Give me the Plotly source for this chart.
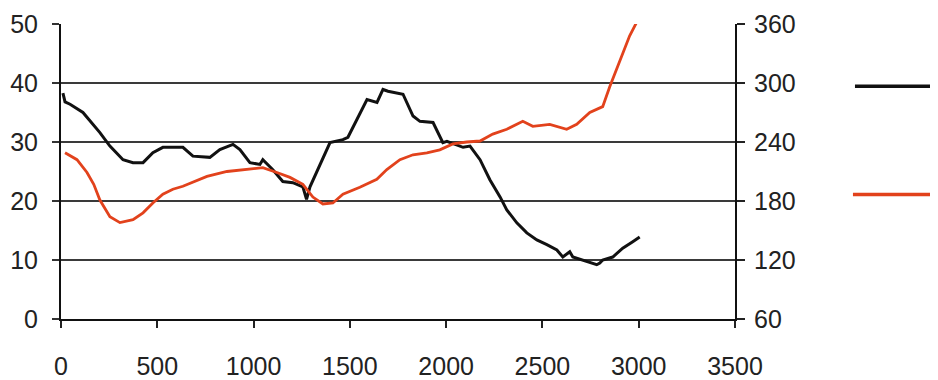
import plotly.graph_objects as go

# Black series (left axis, 0-50)
black_x = [10, 21, 47, 114, 202, 254, 322, 374, 426, 477, 529, 633, 685, 773, 825, 893, 929,
           981, 1033, 1048, 1100, 1152, 1204, 1256, 1275, 1293, 1397, 1464, 1490, 1589, 1641,
           1672, 1698, 1760, 1776, 1828, 1864, 1932, 1983, 2004, 2088, 2124, 2176, 2227, 2280,
           2315, 2367, 2419, 2471, 2523, 2575, 2606, 2642, 2658, 2730, 2782, 2798, 2813, 2865,
           2917, 2969, 3005]
black_y = [38.3, 36.8, 36.4, 35.0, 31.6, 29.3, 27.0, 26.5, 26.5, 28.2, 29.1, 29.1, 27.6, 27.4,
           28.7, 29.6, 28.7, 26.5, 26.2, 27.0, 25.3, 23.3, 23.1, 22.4, 20.3, 22.4, 29.9, 30.4,
           30.8, 37.2, 36.7, 38.9, 38.6, 38.1, 38.1, 34.4, 33.5, 33.3, 29.9, 30.1, 29.1, 29.3,
           27.0, 23.6, 20.7, 18.5, 16.3, 14.6, 13.4, 12.6, 11.7, 10.5, 11.4, 10.5, 9.7, 9.2, 9.5,
           10.0, 10.5, 12.0, 13.1, 13.9]

# Orange series (right axis, 60-360)
orange_x = [21, 83, 135, 170, 202, 254, 306, 374, 426, 477, 529, 581, 633, 685, 758, 862, 965,
            1048, 1121, 1189, 1256, 1308, 1360, 1412, 1464, 1552, 1640, 1692, 1760, 1828, 1900,
            1967, 2035, 2107, 2176, 2242, 2315, 2398, 2450, 2538, 2626, 2678, 2746, 2813, 2849,
            2901, 2953, 2990]
orange_y = [229, 222, 209, 197, 181, 164, 158, 161, 168, 178, 187, 192, 195, 199, 205, 210, 212,
            214, 209, 204, 197, 184, 177, 178, 187, 194, 202, 212, 222, 227, 229, 232, 238, 240,
            241, 248, 253, 261, 256, 258, 253, 258, 270, 276, 296, 321, 348, 362]

x_ticks = [0, 500, 1000, 1500, 2000, 2500, 3000, 3500]
left_ticks = [0, 10, 20, 30, 40, 50]
right_ticks = [60, 120, 180, 240, 300, 360]

BLACK = "#111111"
ORANGE = "#e2421c"
FONT = "Liberation Sans, Arial, sans-serif"

fig = go.Figure()
fig.add_trace(go.Scatter(x=black_x, y=black_y, mode="lines", name="Series 1",
                         line=dict(color=BLACK, width=3), yaxis="y"))
fig.add_trace(go.Scatter(x=orange_x, y=orange_y, mode="lines", name="Series 2",
                         line=dict(color=ORANGE, width=2.8), yaxis="y2"))

# the page body has an 8px margin, so the figure is 8px smaller on each side
fig.update_layout(
    width=930, height=372,
    margin=dict(l=53, r=203, t=16, b=61, autoexpand=False),
    paper_bgcolor="white", plot_bgcolor="white",
    showlegend=False,
    font=dict(family=FONT, size=25, color="#222222"),
    xaxis=dict(range=[0, 3500], tickvals=x_ticks, ticks="outside", ticklen=7, tickwidth=1.5,
               tickcolor="#222", showgrid=False, showline=True, linecolor="#111", linewidth=2,
               zeroline=False, ticklabelstandoff=17, automargin=False),
    yaxis=dict(range=[0, 50], tickvals=left_ticks, ticks="outside", ticklen=7, tickwidth=2,
               tickcolor="#333", showgrid=True, gridcolor="#3a3a3a", gridwidth=2,
               showline=True, linecolor="#111", linewidth=2, zeroline=False,
               ticklabelstandoff=9, automargin=False),
    yaxis2=dict(range=[60, 360], tickvals=right_ticks, overlaying="y", side="right",
                ticks="outside", ticklen=8, tickwidth=1.5, tickcolor="#222", showgrid=False,
                showline=True, linecolor="#111", linewidth=2, zeroline=False,
                ticklabelstandoff=4, automargin=False),
)

# legend keys (text cut off in the original)
fig.add_shape(type="line", xref="paper", yref="paper", x0=1.178, x1=1.31, y0=0.789, y1=0.789,
              line=dict(color=BLACK, width=3.5))
fig.add_shape(type="line", xref="paper", yref="paper", x0=1.175, x1=1.31, y0=0.422, y1=0.422,
              line=dict(color=ORANGE, width=3.5))

fig.write_html("out.html")
